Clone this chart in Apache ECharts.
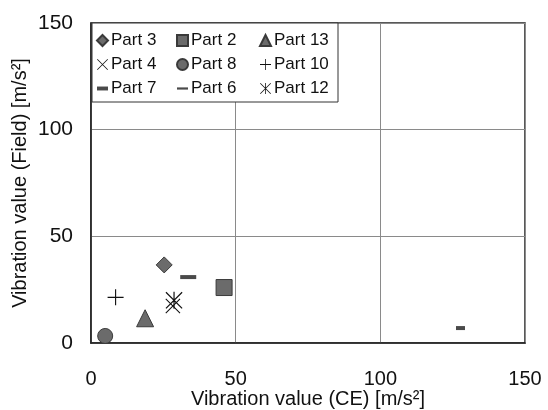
<!DOCTYPE html>
<html>
<head>
<meta charset="utf-8">
<script src="https://cdn.jsdelivr.net/npm/echarts@6/dist/echarts.min.js"></script>
<style>
  html, body { margin: 0; padding: 0; background: #fff; }
  #chart { width: 548px; height: 410px; }
</style>
</head>
<body>
<div id="chart"></div>
<script>
const parts = ['Part 3', 'Part 2', 'Part 13', 'Part 4', 'Part 8', 'Part 10', 'Part 7', 'Part 6', 'Part 12'];
// [CE, Field] per part
const ceValues = [25.3, 46, 18.7, 28.3, 4.9, 8.5, 127.7, 33.6, 28.7];
const fieldValues = [36.6, 26, 11.6, 17.3, 3.3, 21.4, 7, 30.9, 20];
const axisTicks = [0, 50, 100, 150];

const PLUS = 'path://M9.3,0H10.7V9.3H20V10.7H10.7V20H9.3V10.7H0V9.3H9.3Z';
const CROSS = 'path://M0,1L1,0L20,19L19,20Z M19,0L20,1L1,20L0,19Z';
const STAR = 'path://M0,1L1,0L20,19L19,20Z M19,0L20,1L1,20L0,19Z M9.3,0H10.7V20H9.3Z';
const DASH = 'path://M0,0H20V4H0Z';
const SHORT_DASH = 'path://M0,0H14V5H0Z';

const markers = {
  'Part 3': { symbol: 'diamond', size: 16, fill: '#6b6b6b' },
  'Part 2': { symbol: 'rect', size: 16, fill: '#6b6b6b' },
  'Part 13': { symbol: 'triangle', size: 17, fill: '#6b6b6b' },
  'Part 4': { symbol: CROSS, size: 15, fill: '#111' },
  'Part 8': { symbol: 'circle', size: 15, fill: '#6b6b6b' },
  'Part 10': { symbol: PLUS, size: 16, fill: '#111' },
  'Part 7': { symbol: 'rect', size: [9, 4], fill: '#4a4a4a', icon: SHORT_DASH },
  'Part 6': { symbol: 'rect', size: [16, 4], fill: '#4a4a4a', icon: DASH },
  'Part 12': { symbol: STAR, size: 17, fill: '#111' }
};

const chart = echarts.init(document.getElementById('chart'));
const font = 'Liberation Sans, Arial, sans-serif';

const series = parts.map((p, i) => {
  const m = markers[p];
  const line = m.fill === '#111';
  return {
    name: p,
    type: 'scatter',
    symbol: m.symbol,
    symbolSize: m.size,
    symbolKeepAspect: true,
    data: [[ceValues[i], fieldValues[i]]],
    itemStyle: {
      color: m.fill,
      borderColor: line || m.icon ? 'transparent' : '#3a3a3a',
      borderWidth: line || m.icon ? 0 : 1,
      opacity: 1
    }
  };
});

const legendCol = (names, left) => ({
  orient: 'vertical',
  left: left,
  top: 32,
  itemGap: 7,
  itemWidth: 11,
  itemHeight: 11,
  padding: 0,
  z: 5,
  textStyle: { fontFamily: font, fontSize: 17, color: '#111', padding: [0, 0, 0, -2] },
  data: names.map(n => (markers[n].icon ? { name: n, icon: markers[n].icon } : n)),
  selectedMode: false
});

chart.setOption({
  animation: false,
  backgroundColor: '#fff',
  grid: {
    left: 91, top: 23, right: 23, bottom: 67,
    outerBoundsMode: 'none',
    containLabel: false,
    show: true, borderColor: '#222', borderWidth: 1.5
  },
  graphic: [{
    type: 'rect',
    shape: { x: 92, y: 23, width: 246, height: 79 },
    style: { fill: '#fff', stroke: '#333', lineWidth: 1 },
    z: 3
  }],
  legend: [
    legendCol(['Part 3', 'Part 4', 'Part 7'], 96),
    legendCol(['Part 2', 'Part 8', 'Part 6'], 176),
    legendCol(['Part 13', 'Part 10', 'Part 12'], 259)
  ],
  xAxis: {
    type: 'value',
    min: axisTicks[0],
    max: axisTicks[axisTicks.length - 1],
    interval: 50,
    name: 'Vibration value (CE) [m/s²]',
    nameLocation: 'middle',
    nameGap: 46,
    nameMoveOverlap: false,
    nameTextStyle: { fontFamily: font, fontSize: 20, color: '#111' },
    axisLine: { show: true, lineStyle: { color: '#222', width: 1.5 } },
    axisTick: { show: false },
    axisLabel: { fontFamily: font, fontSize: 20, color: '#111', margin: 26 },
    splitLine: { show: true, lineStyle: { color: '#8a8a8a', width: 1 } }
  },
  yAxis: {
    type: 'value',
    min: axisTicks[0],
    max: axisTicks[axisTicks.length - 1],
    interval: 50,
    name: 'Vibration value (Field) [m/s²]',
    nameLocation: 'middle',
    nameGap: 61,
    nameMoveOverlap: false,
    nameTextStyle: { fontFamily: font, fontSize: 20, color: '#111' },
    axisLine: { show: true, lineStyle: { color: '#222', width: 1.5 } },
    axisTick: { show: false },
    axisLabel: { fontFamily: font, fontSize: 21, color: '#111', margin: 18 },
    splitLine: { show: true, lineStyle: { color: '#8a8a8a', width: 1 } }
  },
  series: series
});
</script>
</body>
</html>
